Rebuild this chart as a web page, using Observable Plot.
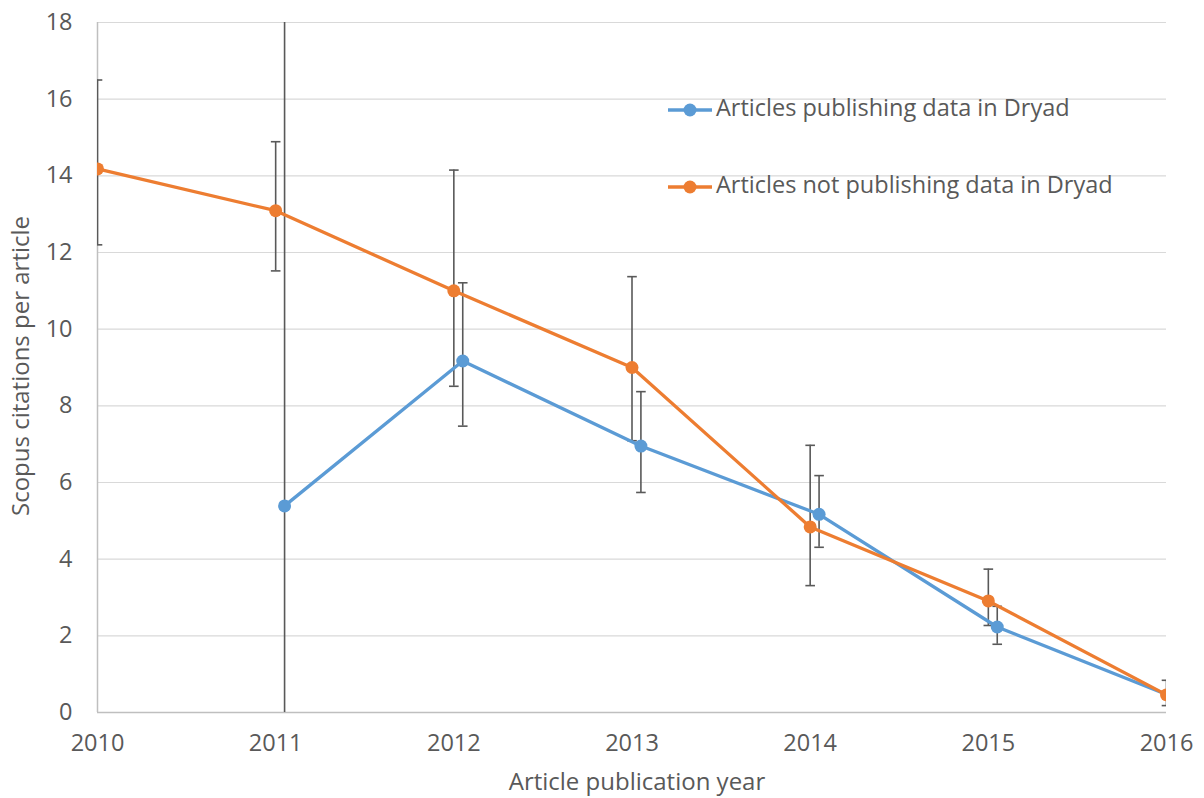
<!DOCTYPE html>
<html><head><meta charset="utf-8">
<script src="https://cdn.jsdelivr.net/npm/d3@7"></script>
<script src="https://cdn.jsdelivr.net/npm/@observablehq/plot@0.6"></script>
<style>
body{margin:0;background:#fff}
#chart svg{font-family:"Open Sans",sans-serif;overflow:visible}
</style>
</head><body><div id="chart"></div>
<script>
// ---- data ----
const years = [2010, 2011, 2012, 2013, 2014, 2015, 2016];
const dryadMean = [null, 5.39, 9.17, 6.95, 5.17, 2.23, 0.38];
const dryadLow  = [null, -8, 7.47, 5.74, 4.31, 1.78, 0.22];
const dryadHigh = [null, 18.8, 11.21, 8.37, 6.18, 2.77, 0.55];
const notMean = [14.18, 13.09, 11.0, 9.0, 4.84, 2.91, 0.46];
const notLow  = [12.2, 11.52, 8.51, 7.09, 3.31, 2.27, 0.18];
const notHigh = [16.5, 14.89, 14.15, 11.37, 6.97, 3.74, 0.84];
const seriesNames = ["Articles publishing data in Dryad", "Articles not publishing data in Dryad"];
const seriesColors = ["#5B9BD5", "#ED7D31"];
const dryadOffset = 0.05; // Dryad series is plotted slightly right of each year
const yTicks = [0, 2, 4, 6, 8, 10, 12, 14, 16, 18];
const xLabel = "Article publication year";
const yLabel = "Scopus citations per article";

// ---- build rows ----
const dryad = years.map((yr, i) => ({x: yr + dryadOffset, y: dryadMean[i], lo: dryadLow[i], hi: dryadHigh[i]})).filter(d => d.y != null);
const notDryad = years.map((yr, i) => ({x: yr, y: notMean[i], lo: notLow[i], hi: notHigh[i]}));

const cap = {draw(ctx, size) { const w = Math.sqrt(size / Math.PI); ctx.moveTo(-w, 0); ctx.lineTo(w, 0); }};
const errColor = "#595959";
const fs = 24;

function errMarks(data) {
  return [
    Plot.ruleX(data, {x: "x", y1: "lo", y2: "hi", stroke: errColor, strokeWidth: 1.6, clip: true}),
    Plot.dot(data, {x: "x", y: "lo", symbol: cap, r: 4.8, fill: "none", stroke: errColor, strokeWidth: 1.6, clip: true}),
    Plot.dot(data, {x: "x", y: "hi", symbol: cap, r: 4.8, fill: "none", stroke: errColor, strokeWidth: 1.6, clip: true})
  ];
}

const chart = Plot.plot({
  width: 1204, height: 798,
  marginLeft: 97, marginRight: 38, marginTop: 22, marginBottom: 86,
  style: {fontSize: fs + "px", color: "#595959", background: "#fff"},
  x: {domain: [2010, 2016], ticks: years, tickFormat: d3.format("d"), tickSize: 0, tickPadding: 22, label: null},
  y: {domain: [0, 18], ticks: yTicks, tickSize: 0, tickPadding: 25, label: null},
  marks: [
    Plot.ruleY(yTicks, {stroke: "#d9d9d9", strokeWidth: 1.2}),
    Plot.ruleY([0], {stroke: "#bfbfbf", strokeWidth: 1.5}),
    Plot.ruleX([2010], {stroke: "#bfbfbf", strokeWidth: 1.5}),
    ...errMarks(dryad),
    ...errMarks(notDryad),
    Plot.line(dryad, {x: "x", y: "y", stroke: seriesColors[0], strokeWidth: 3.3, clip: true}),
    Plot.dot(dryad, {x: "x", y: "y", r: 6.5, fill: seriesColors[0], clip: true}),
    Plot.line(notDryad, {x: "x", y: "y", stroke: seriesColors[1], strokeWidth: 3.3, clip: true}),
    Plot.dot(notDryad, {x: "x", y: "y", r: 6.5, fill: seriesColors[1], clip: true})
  ]
});
document.getElementById("chart").appendChild(chart);

const svg = d3.select(chart);
// enlarge the axis tick labels
svg.selectAll('g[aria-label*="axis"]').style("font-size", "23.5px");
svg.selectAll('g[aria-label*="axis"] text').style("font-size", "23.5px");

// ---- axis titles and legend ----
svg.append("text").attr("x", 637).attr("y", 784).attr("text-anchor", "middle")
  .attr("dominant-baseline", "middle").attr("fill", "#595959").attr("font-size", fs).text(xLabel);
svg.append("text").attr("transform", "translate(23,366) rotate(-90)").attr("text-anchor", "middle")
  .attr("dominant-baseline", "middle").attr("fill", "#595959").attr("font-size", fs).text(yLabel);

const lg = svg.append("g");
seriesNames.forEach((name, i) => {
  const y = 110 + i * 77;
  lg.append("line").attr("x1", 668).attr("x2", 712).attr("y1", y).attr("y2", y)
    .attr("stroke", seriesColors[i]).attr("stroke-width", 3.3);
  lg.append("circle").attr("cx", 690).attr("cy", y).attr("r", 6.5).attr("fill", seriesColors[i]);
  lg.append("text").attr("x", 716).attr("y", y).attr("text-anchor", "start").attr("dominant-baseline", "middle")
    .attr("fill", "#595959").attr("font-size", 23.5).text(name);
});
</script>
</body></html>
